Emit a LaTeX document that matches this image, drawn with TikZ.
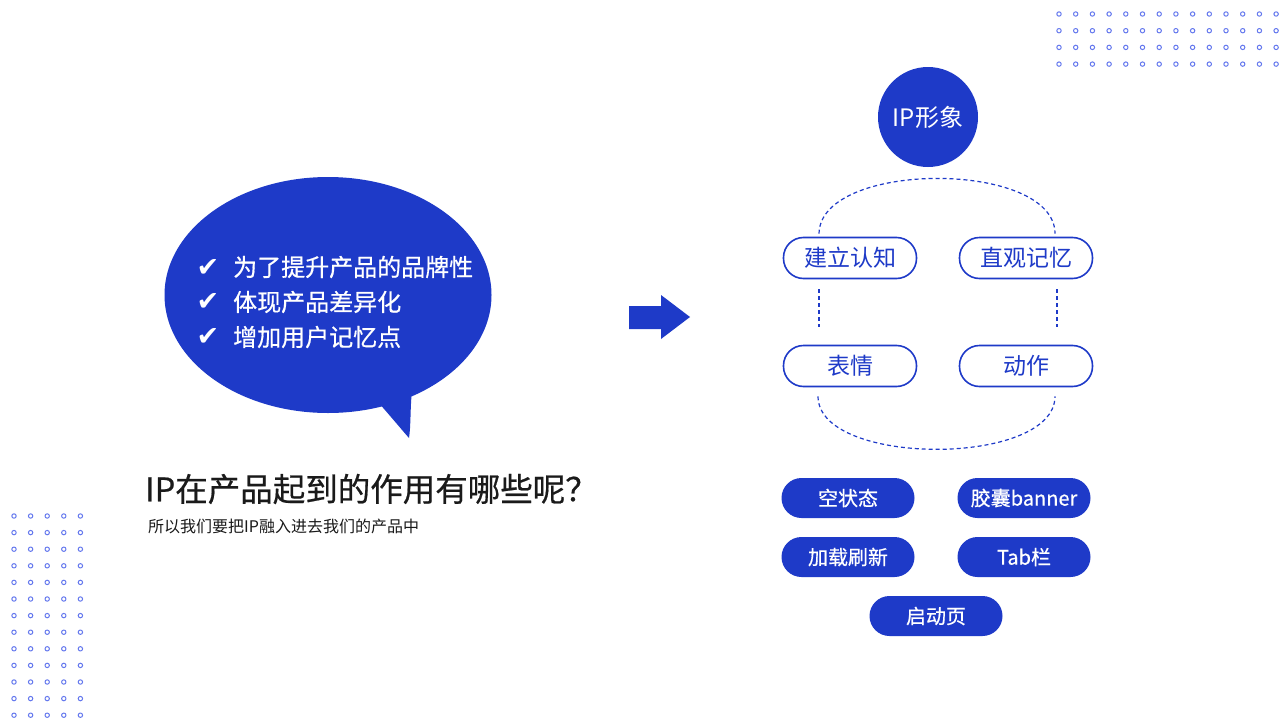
\documentclass[tikz,border=0pt]{standalone}
\usepackage{fontspec}
\usetikzlibrary{shapes.geometric}
\newfontfamily\cjk{Noto Sans CJK SC}
\newfontfamily\cjkmed[FakeBold=0.6]{Noto Sans CJK SC}
\newfontfamily\symfont{DejaVu Sans}
\definecolor{ipblue}{RGB}{30,58,200}
\definecolor{dotblue}{RGB}{100,120,238}
\definecolor{titleblack}{RGB}{26,26,26}

\begin{document}
\begin{tikzpicture}[x=1pt, y=-1pt, line join=round,
  pillline/.style={draw=ipblue, line width=1.6pt, rounded corners=20pt, minimum width=133pt,
    minimum height=41pt, inner sep=0pt, text=ipblue, font=\cjk\fontsize{23}{27}\selectfont},
  pillfill/.style={fill=ipblue, rounded corners=20pt, minimum width=133pt,
    minimum height=40pt, inner sep=0pt, text=white, font=\cjkmed\fontsize{20}{24}\selectfont},
  dashline/.style={draw=ipblue, line width=1.2pt, dash pattern=on 4pt off 3pt},
  dotring/.style={draw=dotblue, line width=1pt},
  checkmark/.style={text=white, inner sep=0pt, font=\symfont\fontsize{27}{30}\selectfont},
  bubbletext/.style={anchor=west, text=white, inner sep=0pt, font=\cjkmed\fontsize{24}{28}\selectfont}]

  %% ════ 背景 ════
  \fill[white] (0,0) rectangle (1280,720);

  %% ════ 点阵 ════
  \foreach \i in {0,...,13}
    \foreach \j in {0,...,3}
      \draw[dotring] (1059+16.7*\i,14+16.7*\j) circle[radius=2.2pt];
  \foreach \i in {0,...,4}
    \foreach \j in {0,...,12}
      \draw[dotring] (14+16.6*\i,516+16.6*\j) circle[radius=2.2pt];

  %% ════ 对话气泡 ════
  \node[name=bubble, ellipse, fill=ipblue, minimum width=327pt, minimum height=236pt, inner sep=0pt] at (328,295) {};
  \fill[ipblue] (378,402) .. controls (392,418) and (402,430) .. (409,438)
    .. controls (411,425) and (410,410) .. (412,390) -- cycle;

  \node[checkmark] (ck1) at (208,268) {✔};
  \node[checkmark] (ck2) at (208,302) {✔};
  \node[checkmark] (ck3) at (208,337) {✔};
  \node[bubbletext] (why1) at (233,267) {为了提升产品的品牌性};
  \node[bubbletext] (why2) at (233,302) {体现产品差异化};
  \node[bubbletext] (why3) at (233,337) {增加用户记忆点};

  %% ════ 标题 ════
  \node[anchor=west, inner sep=0pt, text=titleblack, font=\cjkmed\fontsize{32.5}{36}\selectfont] (title) at (145,489) {IP在产品起到的作用有哪些呢？};
  \node[anchor=west, inner sep=0pt, text=titleblack, font=\cjk\fontsize{16}{18}\selectfont] (subtitle) at (148,526) {所以我们要把IP融入进去我们的产品中};

  %% ════ 箭头 ════
  \fill[ipblue] (629,306) -- (661,306) -- (661,295) -- (690,317) -- (661,339) -- (661,329) -- (629,329) -- cycle;

  %% ════ 右侧 ════
  \node[circle, fill=ipblue, minimum size=100pt, inner sep=0pt, text=white, font=\cjk\fontsize{24}{28}\selectfont] (ipimg) at (928,117) {IP形象};

  \node[pillline] (jianli) at (850,258) {建立认知};
  \node[pillline] (zhiguan) at (1026,258) {直观记忆};
  \node[pillline] (biaoqing) at (850,366) {表情};
  \node[pillline] (dongzuo) at (1026,366) {动作};

  \coordinate (lx) at (819,0);
  \coordinate (rx) at (1057,0);
  \draw[dashline] (jianli.south -| lx) ++(0,10) -- ([yshift=18pt]biaoqing.north -| lx);
  \draw[dashline] (zhiguan.south -| rx) ++(0,10) -- ([yshift=18pt]dongzuo.north -| rx);
  \draw[dashline] ([yshift=3pt]jianli.north -| lx) .. controls (820,160) and (1055,160) .. ([yshift=3pt]zhiguan.north -| 1055,0);
  \draw[dashline] ([yshift=-9pt]biaoqing.south -| 818,0) .. controls (818,467) and (1055,467) .. ([yshift=-9pt]dongzuo.south -| 1055,0);

  \node[pillfill] (kong) at (848,498) {空状态};
  \node[pillfill] (jiaonang) at (1024,498) {胶囊banner};
  \node[pillfill] (jiazai) at (848,557) {加载刷新};
  \node[pillfill] (tablan) at (1024,557) {Tab栏};
  \node[pillfill] (qidong) at (936,616) {启动页};

  \pgfresetboundingbox
  \path[use as bounding box] (0,0) rectangle (1280,720);
\end{tikzpicture}
\end{document}
